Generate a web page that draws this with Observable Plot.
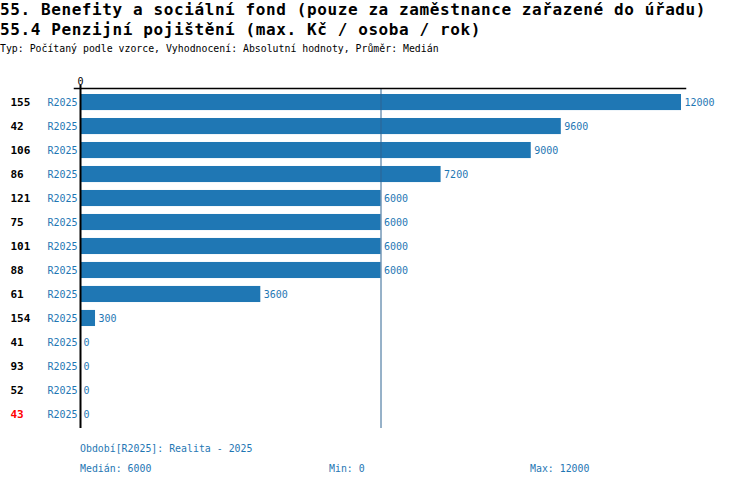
<!DOCTYPE html>
<html>
<head>
<meta charset="utf-8">
<script src="https://cdn.jsdelivr.net/npm/d3@7"></script>
<script src="https://cdn.jsdelivr.net/npm/@observablehq/plot@0.6"></script>
<style>
  html, body { margin: 0; padding: 0; background: #fff; }
  body { width: 750px; height: 488px; position: relative; overflow: hidden; font-family: "DejaVu Sans Mono", monospace; }
  .t1 { position: absolute; left: 0; top: 0px; font-size: 16px; letter-spacing: 0.6px; font-weight: bold; line-height: 20px; white-space: nowrap; color: #000; }
  .t3 { position: absolute; left: 0; top: 43px; font-size: 9.85px; white-space: nowrap; color: #000; }
  #chart { position: absolute; left: 0; top: 62px; }
  .foot { position: absolute; font-size: 9.9px; color: #1f77b4; white-space: nowrap; }
</style>
</head>
<body>
<div class="t1">55. Benefity a sociální fond (pouze za zaměstnance zařazené do úřadu)<br>55.4 Penzijní pojištění (max. Kč / osoba / rok)</div>
<div class="t3">Typ: Počítaný podle vzorce, Vyhodnocení: Absolutní hodnoty, Průměr: Medián</div>
<div id="chart"></div>
<div class="foot" id="f1" style="left:80px; top:443px;"></div>
<div class="foot" id="f2" style="left:80px; top:463px;"></div>
<div class="foot" id="f3" style="left:329px; top:463px;"></div>
<div class="foot" id="f4" style="left:530px; top:463px;"></div>
<script>
const ids = ["155", "42", "106", "86", "121", "75", "101", "88", "61", "154", "41", "93", "52", "43"];
const periods = ["R2025", "R2025", "R2025", "R2025", "R2025", "R2025", "R2025", "R2025", "R2025", "R2025", "R2025", "R2025", "R2025", "R2025"];
const values = [12000, 9600, 9000, 7200, 6000, 6000, 6000, 6000, 3600, 300, 0, 0, 0, 0];
const highlighted = ["43"];
const periodName = "Realita - 2025";
const xTicks = [0];

const data = ids.map((id, i) => ({id, period: periods[i], value: values[i], hi: highlighted.includes(id)}));
const med = d3.median(values);
const mn = d3.min(values);
const mx = d3.max(values);

const blue = "#1f77b4";
let topLine;
try {
  topLine = Plot.frame({anchor: "top", stroke: "black", strokeWidth: 1.5, insetLeft: -6, insetRight: -4});
} catch (e) { topLine = null; }

const chart = Plot.plot({
  width: 750,
  height: 370,
  marginLeft: 80,
  marginRight: 69,
  marginTop: 26,
  marginBottom: 4,
  style: {fontFamily: "DejaVu Sans Mono, monospace", background: "white"},
  x: {domain: [0, 12000], axis: null},
  y: {domain: ids, paddingInner: 0.33, paddingOuter: 0.25, round: false, axis: null},
  marks: [
    Plot.axisX({anchor: "top", ticks: xTicks, tickSize: 0, tickPadding: 4, fontSize: 10, fill: "black", label: null}),
    Plot.barX(data, {x: "value", y: "id", fill: blue}),
    Plot.ruleX([med], {stroke: "#2f6592", strokeWidth: 1}),
    Plot.ruleX([0], {stroke: "black", strokeWidth: 2, insetTop: -3}),
    topLine,
    Plot.text(data, {x: "value", y: "id", text: d => String(d.value), textAnchor: "start", dx: 3, fill: blue, fontSize: 10}),
    Plot.text(data, {x: 0, y: "id", text: "period", textAnchor: "end", dx: -3, fill: blue, fontSize: 10}),
    Plot.text(data, {x: 0, y: "id", text: "id", textAnchor: "start", dx: -70, fill: d => d.hi ? "red" : "black", fontWeight: "bold", fontSize: 11})
  ]
});
document.getElementById("chart").appendChild(chart);
document.getElementById("f1").textContent = `Období[${periods[0]}]: ${periodName}`;
document.getElementById("f2").textContent = `Medián: ${med}`;
document.getElementById("f3").textContent = `Min: ${mn}`;
document.getElementById("f4").textContent = `Max: ${mx}`;
</script>
</body>
</html>
